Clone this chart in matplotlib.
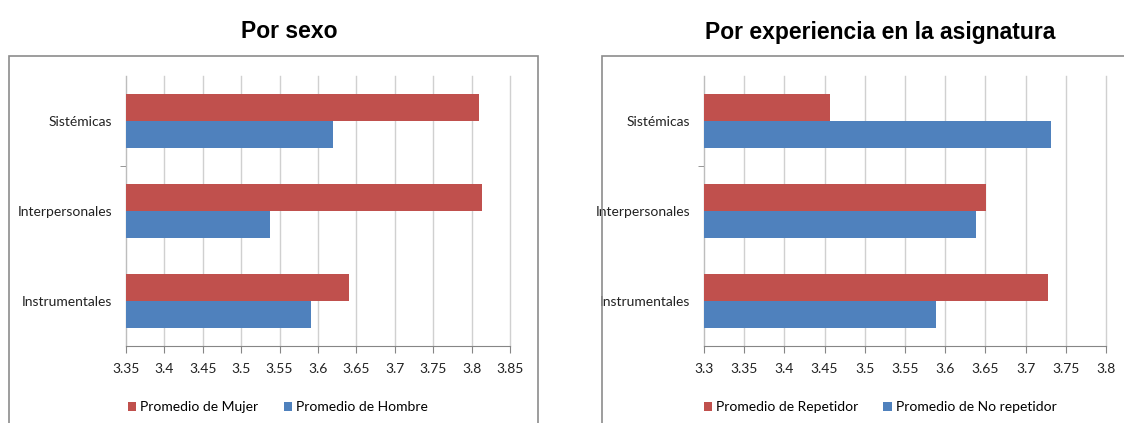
import numpy as np
import matplotlib
matplotlib.use("Agg")
import matplotlib.pyplot as plt
from matplotlib.patches import Rectangle

plt.rcParams['font.family'] = ['Lato', 'DejaVu Sans']

categories = ['Instrumentales', 'Interpersonales', 'Sistémicas']

# Por sexo
mujer = [3.641, 3.814, 3.809]
hombre = [3.591, 3.538, 3.620]
sexo_ticks = [3.35, 3.4, 3.45, 3.5, 3.55, 3.6, 3.65, 3.7, 3.75, 3.8, 3.85]

# Por experiencia en la asignatura
repetidor = [3.728, 3.651, 3.457]
no_repetidor = [3.589, 3.638, 3.732]
exp_ticks = [3.3, 3.35, 3.4, 3.45, 3.5, 3.55, 3.6, 3.65, 3.7, 3.75, 3.8]

RED = '#C0504D'
BLUE = '#4F81BD'
W, H = 1124, 423

fig = plt.figure(figsize=(W / 100, H / 100), dpi=100)


def px(x0, y0, x1, y1):
    # pixel box -> figure fraction rect
    return [x0 / W, 1 - y1 / H, (x1 - x0) / W, (y1 - y0) / H]


def draw(rect, top, bottom, ticks, labels, title, title_x):
    ax = fig.add_axes(rect)
    y = np.arange(len(categories))
    h = 0.3
    base = ticks[0]
    ax.barh(y + h / 2, np.array(top) - base, height=h, left=base,
            color=RED, label=labels[0], zorder=3)
    ax.barh(y - h / 2, np.array(bottom) - base, height=h, left=base,
            color=BLUE, label=labels[1], zorder=3)
    ax.set_xlim(ticks[0], ticks[-1])
    ax.set_ylim(-0.5, len(categories) - 0.5)
    ax.set_xticks(ticks)
    ax.set_xticklabels([('%g' % t) for t in ticks], fontsize=10, color='#222222')
    ax.set_yticks(y)
    ax.set_yticklabels(categories, fontsize=10, color='#222222')
    ax.set_yticks([1.5], minor=True)
    ax.grid(axis='x', color='#D0D0D0', linewidth=1, zorder=0)
    for g in ax.get_xgridlines():
        g.set_clip_on(False)
    for s in ['top', 'right']:
        ax.spines[s].set_visible(False)
    ax.spines['bottom'].set_color('#868686')
    ax.spines['left'].set_color('#BDBDBD')
    ax.tick_params(axis='x', length=5, color='#868686', pad=7)
    ax.tick_params(axis='y', which='major', length=0, pad=10)
    ax.tick_params(axis='y', which='minor', length=4, color='#868686')
    fig.text(title_x / W, 1 - 32 / H, title, ha='center', va='center',
             fontsize=16.5, fontweight='bold', family=['Liberation Sans', 'DejaVu Sans'])
    return ax


ax1 = draw(px(126, 76, 510, 346), mujer, hombre, sexo_ticks,
           ['Promedio de Mujer', 'Promedio de Hombre'], 'Por sexo', 289)
ax2 = draw(px(704, 76, 1106, 346), repetidor, no_repetidor, exp_ticks,
           ['Promedio de Repetidor', 'Promedio de No repetidor'],
           'Por experiencia en la asignatura', 880)

for ax, cx in [(ax1, 278), (ax2, 880)]:
    fig.legend(handles=[ax.containers[0], ax.containers[1]],
               loc='center', bbox_to_anchor=(cx / W, 1 - 407 / H), ncol=2,
               frameon=False, fontsize=10, handlelength=0.6, handleheight=0.6,
               handletextpad=0.3, columnspacing=1.8)

# chart frames
for x0, x1 in [(9, 538), (602, 1140)]:
    fig.patches.append(Rectangle((x0 / W, -0.1), (x1 - x0) / W, 1 - 56 / H + 0.1,
                                 transform=fig.transFigure, fill=False,
                                 edgecolor='#8C8C8C', linewidth=1.2))

fig.savefig('out.png', dpi=100)
